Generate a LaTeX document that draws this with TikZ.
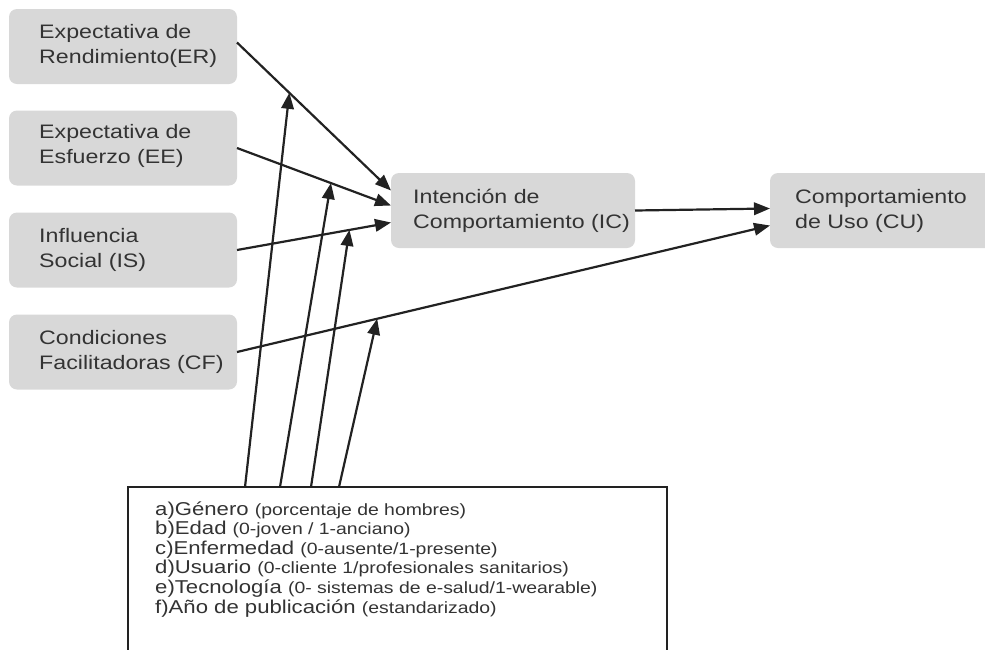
\documentclass[tikz,border=0pt]{standalone}
\usepackage{fontspec}
\setmainfont{Liberation Sans}[FakeStretch=1.19]
\usetikzlibrary{arrows.meta,calc}
\definecolor{boxgray}{HTML}{D8D8D8}
\definecolor{txtgray}{HTML}{333333}
\definecolor{linegray}{HTML}{222222}
\newcommand\mbig{\fontsize{18.6}{19.6}\selectfont}
\newcommand\msmall{\fontsize{16.3}{19.6}\selectfont}
\begin{document}
\begin{tikzpicture}[x=1pt,y=-1pt,
  box/.style={fill=boxgray, rounded corners=8pt, minimum width=228pt, minimum height=75pt, draw=none, inner sep=0pt, outer sep=0pt},
  lbl/.style={anchor=west, align=left, text=txtgray, font=\fontsize{19.5}{25}\selectfont, inner sep=0pt},
  conn/.style={draw=linegray, line width=2.2pt, -{Triangle[length=16pt,width=12.5pt]}},
  modbox/.style={draw=linegray, line width=2.2pt, fill=white, minimum width=539pt, minimum height=180pt, inner sep=0pt, outer sep=0pt},
  mtext/.style={anchor=base west, inner sep=0pt, text=txtgray}]
\useasboundingbox (0,0) rectangle (985,649);
\clip (0,0) rectangle (985,649);

% boxes
\node[box] (er) at (123,46.5) {};
\node[box] (ee) at (123,148) {};
\node[box] (is) at (123,250) {};
\node[box] (cf) at (123,352) {};
\node[box, minimum width=244pt] (ic) at (513,210.5) {};
\node[box, minimum width=230pt] (cu) at (885,210.5) {};

% labels
\node[lbl] (ert) at ($(er.west)+(30,-1)$) {Expectativa de\\Rendimiento(ER)};
\node[lbl] (eet) at ($(ee.west)+(30,-2)$) {Expectativa de\\Esfuerzo (EE)};
\node[lbl] (ist) at ($(is.west)+(30,0)$) {Influencia\\Social (IS)};
\node[lbl] (cft) at ($(cf.west)+(30,0)$) {Condiciones\\Facilitadoras (CF)};
\node[lbl] (ict) at ($(ic.west)+(22,0)$) {Intención de\\Comportamiento (IC)};
\node[lbl] (cut) at ($(cu.west)+(25,0)$) {Comportamiento\\de Uso (CU)};

% moderator box
\node[modbox] (mod) at (397.5,577) {};
\node[mtext] (ma) at (155,515) {\mbig a)Género \msmall(porcentaje de hombres)};
\node[mtext] (mb) at (155,534.6) {\mbig b)Edad \msmall(0-joven / 1-anciano)};
\node[mtext] (mc) at (155,554.2) {\mbig c)Enfermedad \msmall(0-ausente/1-presente)};
\node[mtext] (md) at (155,573.8) {\mbig d)Usuario \msmall(0-cliente 1/profesionales sanitarios)};
\node[mtext] (me) at (155,593.4) {\mbig e)Tecnología \msmall(0- sistemas de e-salud/1-wearable)};
\node[mtext] (mf) at (155,613) {\mbig f)Año de publicación \msmall(estandarizado)};

% main connectors
\draw[conn] ($(er.east)+(0,-4)$) -- coordinate[pos=0.34] (m1) ($(ic.west)+(0,-20)$);
\draw[conn] (ee.east) -- coordinate[pos=0.61] (m2) ($(ic.west)+(0,-5)$);
\draw[conn] (is.east) -- coordinate[pos=0.73] (m3) ($(ic.west)+(0,12)$);
\draw[conn] (cf.east) -- coordinate[pos=0.263] (m4) ($(cu.west)+(0,15)$);
\draw[conn] (ic.east) -- ($(cu.west)+(0,-2)$);

% moderator connectors
\draw[conn] ($(mod.north west)+(117,0)$) -- (m1);
\draw[conn] ($(mod.north west)+(152,0)$) -- (m2);
\draw[conn] ($(mod.north west)+(183,0)$) -- (m3);
\draw[conn] ($(mod.north west)+(211,0)$) -- (m4);
\end{tikzpicture}
\end{document}
